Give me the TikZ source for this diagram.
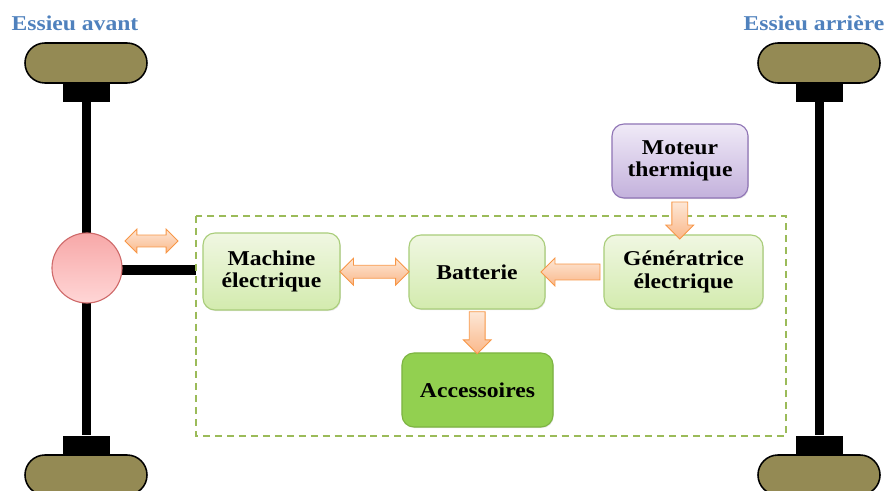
\documentclass[tikz,border=0pt]{standalone}
\usepackage{fontspec}
\newfontfamily\boxfont{Liberation Serif}[FakeStretch=1.12]
\usetikzlibrary{shapes.arrows,calc,shadows}

\definecolor{roue}{HTML}{948A54}
\definecolor{vertbord}{HTML}{A9CD7A}
\definecolor{verthaut}{HTML}{F0F7E2}
\definecolor{vertbas}{HTML}{D3EBAE}
\definecolor{violetbord}{HTML}{8F74B5}
\definecolor{violethaut}{HTML}{F0EAF7}
\definecolor{violetbas}{HTML}{C3B1DC}
\definecolor{accfond}{HTML}{92D050}
\definecolor{accbord}{HTML}{7DB442}
\definecolor{orbord}{HTML}{F79646}
\definecolor{orhaut}{HTML}{FDE7D6}
\definecolor{orbas}{HTML}{FAB88A}
\definecolor{titre}{HTML}{4F81BD}
\definecolor{cadre}{HTML}{9BBB59}
\definecolor{rougebord}{HTML}{CF6A6A}
\definecolor{rougehaut}{HTML}{F7A8A8}
\definecolor{rougebas}{HTML}{FFD6D6}

\begin{document}
\begin{tikzpicture}[x=0.025cm, y=-0.025cm,
    texte/.style={font=\boxfont\bfseries\fontsize{15}{16}\selectfont, align=center},
    bloc/.style={texte, rounded corners=0.3cm, line width=0.8pt, inner sep=0pt,
        drop shadow={opacity=0.2, shadow xshift=0.6pt, shadow yshift=-0.8pt}},
    vert/.style={bloc, draw=vertbord, top color=verthaut, bottom color=vertbas},
    pneu/.style={draw=black, line width=1.1pt, fill=roue, rounded corners=0.5cm,
        minimum width=3.05cm, minimum height=1cm},
    moyeu/.style={fill=black, inner sep=0pt, minimum width=1.175cm, minimum height=0.475cm},
    arbre/.style={line width=6.4pt},
    fleche/.style={single arrow, draw=orbord, line width=0.6pt, top color=orhaut,
        bottom color=orbas, inner sep=0.1875cm, single arrow head extend=0.15cm},
    double/.style={double arrow, draw=orbord, line width=0.6pt, top color=orhaut,
        bottom color=orbas, inner sep=0.15cm, double arrow head extend=0.175cm}]

    \clip (0,0) rectangle (886,491);

    % Titles of the axles
    \node[texte, text=titre] (tav) at (75,23) {Essieu avant};
    \node[texte, text=titre] (tar) at (814,23) {Essieu arrière};

    % Wheels and hubs
    \node[pneu] (roue1) at (86,63) {};
    \node[pneu] (roue2) at (819,63) {};
    \node[pneu] (roue3) at (86,475) {};
    \node[pneu] (roue4) at (819,475) {};
    \node[moyeu] (moyeu1) at (86.5,92.5) {};
    \node[moyeu] (moyeu2) at (819,92.5) {};
    \node[moyeu] (moyeu3) at (86.5,445) {};
    \node[moyeu] (moyeu4) at (819,445) {};

    % Draw the axles
    \draw[arbre] (moyeu1.south) -- (moyeu3.north);
    \draw[arbre] (moyeu2.south) -- (moyeu4.north);

    % Differential and its shaft
    \coordinate (entree) at (196,270);
    \draw[line width=7.1pt] (87,270) -- (entree);
    \node[circle, draw=rougebord, line width=0.8pt, top color=rougehaut, bottom color=rougebas,
        minimum size=1.75cm, inner sep=0pt] (diff) at (87,268) {};

    % Dashed frame
    \draw[cadre, line width=1.1pt, dash pattern=on 5pt off 3.5pt] (196,216) rectangle (786,436);

    % The blocks
    \node[vert, minimum width=3.425cm, minimum height=1.925cm] (mach) at (271.5,271.5) {Machine\\électrique};
    \node[vert, minimum width=3.4cm, minimum height=1.85cm] (bat) at (477,272) {Batterie};
    \node[vert, minimum width=3.975cm, minimum height=1.85cm] (gen) at (683.5,272) {Génératrice\\électrique};
    \node[bloc, draw=violetbord, top color=violethaut, bottom color=violetbas,
        minimum width=3.4cm, minimum height=1.85cm] (mot) at (680,161) {Moteur\\thermique};
    \node[bloc, draw=accbord, fill=accfond, minimum width=3.775cm, minimum height=1.85cm] (acc) at (477.5,390) {Accessoires};

    % The arrows
    \node[fleche, minimum height=0.925cm, shape border rotate=270] (f1) at ($(mot.south)!0.5!(gen.north)-(2,0)$) {};
    \node[fleche, minimum height=1.475cm, shape border rotate=180] (f2) at ($(gen.west)!0.5!(bat.east)$) {};
    \node[double, minimum height=1.725cm] (f3) at ($(mach.east)!0.5!(bat.west)$) {};
    \node[fleche, minimum height=1.05cm, shape border rotate=270] (f4) at ($(bat.south)!0.45!(acc.north)$) {};
    \node[double, minimum height=1.325cm, inner sep=0.1375cm, double arrow head extend=0.15cm] (f5) at (151.5,241) {};

\end{tikzpicture}
\end{document}
